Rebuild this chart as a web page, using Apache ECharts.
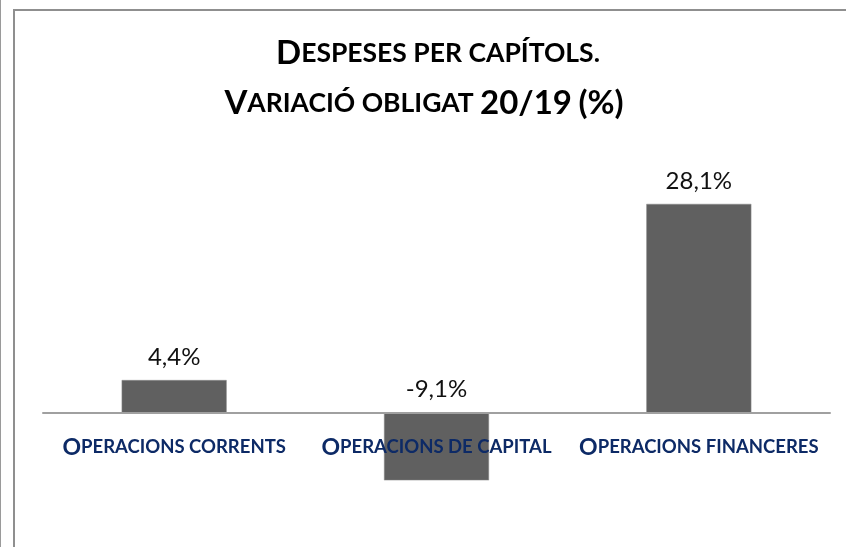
<!DOCTYPE html>
<html>
<head>
<meta charset="utf-8">
<script src="https://cdn.jsdelivr.net/npm/echarts@6/dist/echarts.min.js"></script>
<style>
  html, body { margin: 0; padding: 0; background: #fff; }
  .page { position: relative; width: 846px; height: 547px; overflow: hidden; }
  .edge { position: absolute; left: 0; top: 0; bottom: 0; width: 1px; background: #9a9a9a; }
  .frame { position: absolute; left: 13px; top: 9px; right: -4px; bottom: -4px;
           border-left: 2px solid #8f8f8f; border-top: 2px solid #8f8f8f; }
  #chart { position: absolute; left: 0; top: 0; width: 846px; height: 547px; }
</style>
</head>
<body>
<div class="page">
  <div class="edge"></div>
  <div class="frame"></div>
  <div id="chart"></div>
</div>
<script>
const titleLines = ['Despeses per capítols.', 'Variació obligat 20/19 (%)']
const categories = ['Operacions corrents', 'Operacions de capital', 'Operacions financeres']
const values = [4.4, -9.1, 28.1]

const FONT = 'Lato, "Noto Sans", sans-serif'

// small caps: capitals/digits keep full size, lowercase becomes smaller capitals
function smallCaps(text, big, small) {
  let out = ''
  let run = ''
  let runStyle = null
  for (const ch of text) {
    const isLower = ch !== ch.toUpperCase() || ch === ' ' || ch === '.'
    const st = isLower ? small : big
    if (st !== runStyle && run) {
      out += `{${runStyle}|${run}}`
      run = ''
    }
    runStyle = st
    run += ch.toUpperCase()
  }
  if (run) out += `{${runStyle}|${run}}`
  return out
}

const Y_MIN = -15
const Y_MAX = 30
const GRID_TOP = 189.8
const GRID_BOTTOM = 22.8
const plotH = 547 - GRID_TOP - GRID_BOTTOM
// lift the category axis from the grid bottom up to the zero line
const zeroOffset = -plotH * (0 - Y_MIN) / (Y_MAX - Y_MIN)

const titleRich = {
  b: { fontFamily: FONT, fontWeight: 'bold', fontSize: 33, color: '#000' },
  s: { fontFamily: FONT, fontWeight: 'bold', fontSize: 26.5, color: '#000' },
}

const chart = echarts.init(document.getElementById('chart'), null, { renderer: 'canvas' })

chart.setOption({
  animation: false,
  title: [
    { text: smallCaps(titleLines[0], 'b', 's'), left: 433, top: 32, textAlign: 'center', textStyle: { rich: titleRich } },
    { text: smallCaps(titleLines[1], 'b', 's'), left: 419, top: 82, textAlign: 'center', textStyle: { rich: titleRich } },
  ],
  grid: { left: 43, right: 16, top: GRID_TOP, bottom: GRID_BOTTOM, containLabel: false, outerBoundsMode: 'none' },
  xAxis: {
    type: 'category',
    data: categories,
    offset: zeroOffset,
    z: 10,
    axisLine: { onZero: false, lineStyle: { color: '#a0a0a0', width: 2 } },
    axisTick: { show: false },
    axisLabel: {
      margin: 23,
      interval: 0,
      formatter: (v) => smallCaps(v, 'b', 's'),
      rich: {
        b: { fontFamily: FONT, fontWeight: 'bold', fontSize: 23, color: '#0d2a66' },
        s: { fontFamily: FONT, fontWeight: 'bold', fontSize: 18.5, color: '#0d2a66' },
      },
    },
  },
  yAxis: {
    type: 'value',
    min: Y_MIN,
    max: Y_MAX,
    show: false,
    splitLine: { show: false },
  },
  series: [
    {
      type: 'bar',
      data: values,
      barWidth: 105,
      itemStyle: { color: '#606060', borderColor: '#8a8a8a', borderWidth: 0.5 },
      label: {
        show: true,
        position: 'top',
        distance: 11,
        fontFamily: FONT,
        fontSize: 24,
        color: '#111',
        formatter: (p) => p.value.toFixed(1).replace('.', ',') + '%',
      },
    },
  ],
})
</script>
</body>
</html>
